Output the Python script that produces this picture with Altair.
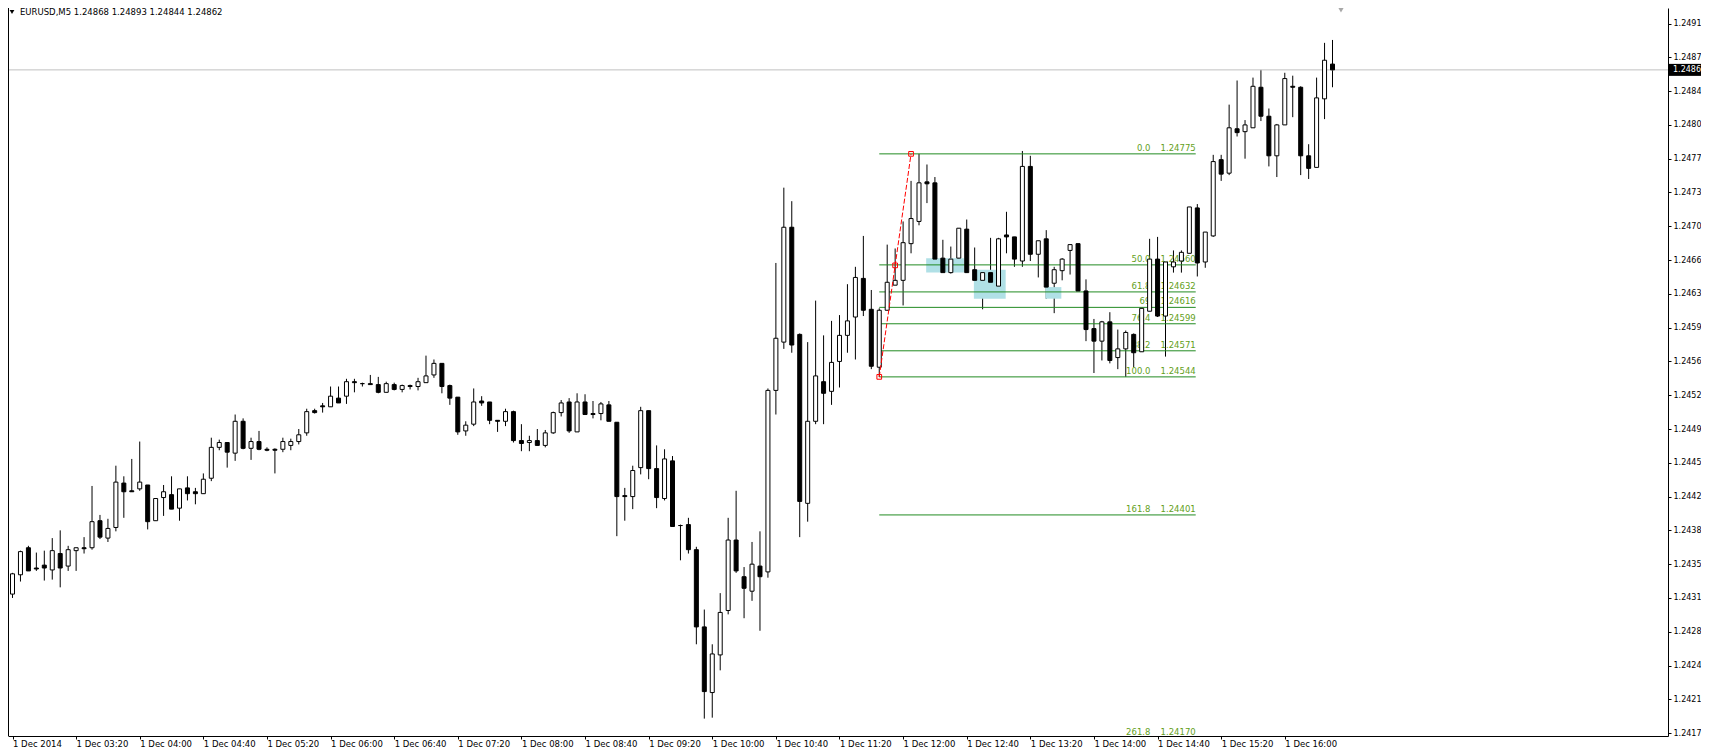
import json
import altair as alt
import pandas as pd

# ---------------- data (EURUSD M5, 1 Dec 2014, one bar every 5 minutes from 02:40) ----------------
opens = [1.24319, 1.24339, 1.24367, 1.24346, 1.24349, 1.24344, 1.24361, 1.24348, 1.24364, 1.24367,
         1.24367, 1.24395, 1.24377, 1.24388, 1.24434, 1.24426, 1.24428, 1.24432, 1.24395, 1.24419,
         1.24422, 1.24408, 1.24429, 1.24425, 1.24423, 1.24439, 1.24471, 1.24476, 1.24465, 1.24498,
         1.24470, 1.24477, 1.24469, 1.24469, 1.24469, 1.24473, 1.24477, 1.24486, 1.24509, 1.24514,
         1.24513, 1.24522, 1.24524, 1.24539, 1.24537, 1.24537, 1.24536, 1.24528, 1.24536, 1.24531,
         1.24535, 1.24534, 1.24538, 1.24546, 1.24558, 1.24535, 1.24523, 1.24488, 1.24495, 1.24519,
         1.24518, 1.24499, 1.24498, 1.24508, 1.24478, 1.24476, 1.24478, 1.24473, 1.24486, 1.24507,
         1.24518, 1.24487, 1.24518, 1.24506, 1.24506, 1.24515, 1.24497, 1.24421, 1.24420, 1.24450,
         1.24509, 1.24449, 1.24418, 1.24457, 1.24390, 1.24391, 1.24365, 1.24285, 1.24217, 1.24256,
         1.24302, 1.24375, 1.24337, 1.24322, 1.24348, 1.24342, 1.24530, 1.24580, 1.24699, 1.24588,
         1.24413, 1.24498, 1.24539, 1.24529, 1.24560, 1.24587, 1.24606, 1.24646, 1.24614, 1.24554,
         1.24613, 1.24639, 1.24644, 1.24682, 1.24705, 1.24746, 1.24745, 1.24667, 1.24652, 1.24667,
         1.24697, 1.24655, 1.24644, 1.24652, 1.24638, 1.24691, 1.24689, 1.24664, 1.24762, 1.24671,
         1.24687, 1.24641, 1.24654, 1.24675, 1.24682, 1.24633, 1.24594, 1.24581, 1.24601, 1.24564,
         1.24573, 1.24588, 1.24570, 1.24612, 1.24666, 1.24607, 1.24658, 1.24664, 1.24672, 1.24719,
         1.24663, 1.24690, 1.24769, 1.24755, 1.24801, 1.24798, 1.24802, 1.24844, 1.24814, 1.24773,
         1.24805, 1.24845, 1.24844, 1.24773, 1.24761, 1.24832, 1.24868]
highs = [1.24341, 1.24364, 1.24369, 1.24362, 1.24364, 1.24377, 1.24385, 1.24369, 1.24367, 1.24378,
         1.24431, 1.24401, 1.24397, 1.24452, 1.24441, 1.24459, 1.24477, 1.24432, 1.24418, 1.24432,
         1.24441, 1.24428, 1.24441, 1.24429, 1.24444, 1.24481, 1.24479, 1.24476, 1.24505, 1.24501,
         1.24481, 1.24488, 1.24471, 1.24470, 1.24481, 1.24480, 1.24490, 1.24511, 1.24511, 1.24517,
         1.24534, 1.24534, 1.24542, 1.24542, 1.24538, 1.24546, 1.24544, 1.24539, 1.24538, 1.24536,
         1.24536, 1.24543, 1.24566, 1.24562, 1.24558, 1.24536, 1.24523, 1.24498, 1.24532, 1.24524,
         1.24518, 1.24499, 1.24511, 1.24509, 1.24495, 1.24483, 1.24490, 1.24489, 1.24508, 1.24520,
         1.24522, 1.24527, 1.24526, 1.24519, 1.24518, 1.24519, 1.24497, 1.24429, 1.24452, 1.24513,
         1.24509, 1.24473, 1.24469, 1.24462, 1.24391, 1.24398, 1.24368, 1.24303, 1.24267, 1.24320,
         1.24398, 1.24426, 1.24347, 1.24373, 1.24384, 1.24532, 1.24662, 1.24740, 1.24726, 1.24589,
         1.24580, 1.24623, 1.24587, 1.24602, 1.24608, 1.24640, 1.24658, 1.24690, 1.24634, 1.24615,
         1.24681, 1.24677, 1.24705, 1.24747, 1.24775, 1.24764, 1.24751, 1.24686, 1.24679, 1.24698,
         1.24707, 1.24678, 1.24652, 1.24688, 1.24688, 1.24715, 1.24689, 1.24778, 1.24773, 1.24685,
         1.24696, 1.24658, 1.24667, 1.24681, 1.24682, 1.24645, 1.24604, 1.24602, 1.24611, 1.24593,
         1.24592, 1.24589, 1.24615, 1.24687, 1.24689, 1.24663, 1.24675, 1.24675, 1.24720, 1.24723,
         1.24694, 1.24774, 1.24774, 1.24826, 1.24851, 1.24810, 1.24854, 1.24862, 1.24822, 1.24806,
         1.24859, 1.24856, 1.24845, 1.24785, 1.24854, 1.24890, 1.24893]
lows = [1.24315, 1.24332, 1.24343, 1.24343, 1.24333, 1.24334, 1.24326, 1.24343, 1.24343, 1.24361,
        1.24365, 1.24376, 1.24373, 1.24384, 1.24398, 1.24425, 1.24426, 1.24386, 1.24395, 1.24400,
        1.24407, 1.24395, 1.24416, 1.24412, 1.24423, 1.24436, 1.24468, 1.24450, 1.24457, 1.24469,
        1.24458, 1.24468, 1.24467, 1.24444, 1.24466, 1.24468, 1.24474, 1.24483, 1.24506, 1.24507,
        1.24513, 1.24517, 1.24516, 1.24528, 1.24534, 1.24536, 1.24527, 1.24528, 1.24530, 1.24528,
        1.24531, 1.24530, 1.24538, 1.24543, 1.24527, 1.24515, 1.24484, 1.24483, 1.24493, 1.24514,
        1.24495, 1.24487, 1.24493, 1.24476, 1.24467, 1.24467, 1.24473, 1.24471, 1.24485, 1.24503,
        1.24486, 1.24487, 1.24505, 1.24501, 1.24499, 1.24498, 1.24379, 1.24395, 1.24407, 1.24443,
        1.24438, 1.24408, 1.24416, 1.24389, 1.24354, 1.24361, 1.24267, 1.24190, 1.24191, 1.24240,
        1.24298, 1.24341, 1.24294, 1.24312, 1.24281, 1.24336, 1.24505, 1.24573, 1.24569, 1.24378,
        1.24394, 1.24495, 1.24495, 1.24515, 1.24533, 1.24569, 1.24562, 1.24607, 1.24552, 1.24544,
        1.24613, 1.24639, 1.24618, 1.24672, 1.24701, 1.24724, 1.24664, 1.24652, 1.24651, 1.24654,
        1.24652, 1.24636, 1.24614, 1.24631, 1.24631, 1.24672, 1.24658, 1.24658, 1.24664, 1.24647,
        1.24625, 1.24610, 1.24644, 1.24650, 1.24633, 1.24581, 1.24548, 1.24561, 1.24558, 1.24552,
        1.24544, 1.24554, 1.24570, 1.24612, 1.24606, 1.24565, 1.24652, 1.24652, 1.24672, 1.24648,
        1.24657, 1.24689, 1.24747, 1.24753, 1.24793, 1.24770, 1.24802, 1.24809, 1.24762, 1.24751,
        1.24805, 1.24813, 1.24753, 1.24749, 1.24761, 1.24811, 1.24844]
closes = [1.24340, 1.24363, 1.24343, 1.24345, 1.24346, 1.24364, 1.24346, 1.24365, 1.24367, 1.24366,
          1.24394, 1.24378, 1.24387, 1.24435, 1.24425, 1.24425, 1.24435, 1.24394, 1.24418, 1.24425,
          1.24407, 1.24428, 1.24423, 1.24423, 1.24438, 1.24471, 1.24476, 1.24466, 1.24498, 1.24470,
          1.24477, 1.24469, 1.24468, 1.24468, 1.24477, 1.24477, 1.24484, 1.24508, 1.24507, 1.24513,
          1.24524, 1.24517, 1.24539, 1.24538, 1.24537, 1.24536, 1.24528, 1.24537, 1.24531, 1.24535,
          1.24534, 1.24539, 1.24545, 1.24558, 1.24534, 1.24522, 1.24487, 1.24494, 1.24518, 1.24517,
          1.24499, 1.24498, 1.24508, 1.24478, 1.24475, 1.24478, 1.24473, 1.24486, 1.24507, 1.24517,
          1.24488, 1.24518, 1.24505, 1.24505, 1.24516, 1.24498, 1.24420, 1.24420, 1.24447, 1.24509,
          1.24449, 1.24419, 1.24459, 1.24389, 1.24390, 1.24365, 1.24285, 1.24218, 1.24257, 1.24300,
          1.24375, 1.24343, 1.24325, 1.24350, 1.24337, 1.24530, 1.24584, 1.24699, 1.24577, 1.24415,
          1.24498, 1.24545, 1.24527, 1.24559, 1.24587, 1.24602, 1.24647, 1.24613, 1.24555, 1.24613,
          1.24642, 1.24644, 1.24683, 1.24708, 1.24745, 1.24744, 1.24666, 1.24652, 1.24666, 1.24698,
          1.24652, 1.24644, 1.24652, 1.24642, 1.24687, 1.24689, 1.24666, 1.24762, 1.24671, 1.24685,
          1.24637, 1.24655, 1.24666, 1.24681, 1.24633, 1.24593, 1.24581, 1.24601, 1.24561, 1.24573,
          1.24590, 1.24569, 1.24615, 1.24666, 1.24607, 1.24663, 1.24663, 1.24673, 1.24720, 1.24662,
          1.24694, 1.24767, 1.24754, 1.24802, 1.24797, 1.24805, 1.24845, 1.24814, 1.24773, 1.24805,
          1.24853, 1.24844, 1.24773, 1.24760, 1.24833, 1.24872, 1.24862]

symbol = "EURUSD,M5"

x_tick_bars = [0, 8, 16, 24, 32, 40, 48, 56, 64, 72, 80, 88, 96, 104, 112, 120, 128, 136, 144, 152, 160]
x_tick_labels = ["1 Dec 2014", "1 Dec 03:20", "1 Dec 04:00", "1 Dec 04:40", "1 Dec 05:20",
                 "1 Dec 06:00", "1 Dec 06:40", "1 Dec 07:20", "1 Dec 08:00", "1 Dec 08:40",
                 "1 Dec 09:20", "1 Dec 10:00", "1 Dec 10:40", "1 Dec 11:20", "1 Dec 12:00",
                 "1 Dec 12:40", "1 Dec 13:20", "1 Dec 14:00", "1 Dec 14:40", "1 Dec 15:20",
                 "1 Dec 16:00"]
price_ticks = [1.24175, 1.24210, 1.24245, 1.24280, 1.24315, 1.24350, 1.24385, 1.24420, 1.24455,
               1.24490, 1.24525, 1.24560, 1.24595, 1.24630, 1.24665, 1.24700, 1.24735, 1.24770,
               1.24805, 1.24840, 1.24875, 1.24910]

# Fibonacci retracement object
fib_levels = ["0.0", "50.0", "61.8", "69", "76.4", "88.2", "100.0", "161.8", "261.8"]
fib_prices = [1.24775, 1.24660, 1.24632, 1.24616, 1.24599, 1.24571, 1.24544, 1.24401, 1.24170]
fib_anchor_bars = [109, 113]
fib_anchor_prices = [1.24544, 1.24775]
fib_end_bar = 148.8
fib_label_bar = 143.1

# highlighted rectangles
rect_start = [114.9, 120.9, 129.9]
rect_end = [119.65, 124.9, 131.9]
rect_low = [1.24652, 1.24625, 1.24625]
rect_high = [1.24667, 1.24655, 1.24637]

# ---------------- layout ----------------
W, H = 1660, 728
PAD_R, PAD_B = 33, 12
FONT = "DejaVu Sans"
FS = 8.5
YFS = 8
FIB_LINE = "#228B22"
FIB_TEXT = "#63A01A"

xs = alt.Scale(domain=[0.0625, 0.0625 + W / 8.0], nice=False, zero=False)
ys = alt.Scale(domain=[1.24172, 1.249261], nice=False, zero=False)

X_AXIS = alt.Axis(values=x_tick_bars, labelExpr=json.dumps(x_tick_labels) + "[round(datum.value / 8)]",
                  orient="bottom", grid=False, tickSize=3, labelAlign="left", labelBaseline="top",
                  labelPadding=0, labelFlush=False, labelOverlap=False, labelBound=False,
                  title=None, domainColor="black", tickColor="black", labelFont=FONT,
                  labelFontSize=FS, labelColor="black")
Y_AXIS = alt.Axis(values=price_ticks, format=".5f", orient="right", grid=False, tickSize=3,
                  labelPadding=2, labelBaseline="middle", title=None, domainColor="black",
                  tickColor="black", labelOverlap=False, labelFlush=False, labelBound=False,
                  labelFont=FONT, labelFontSize=YFS, labelColor="black")


def X(field):
    return alt.X(field, scale=xs, axis=X_AXIS)


def Y(field):
    return alt.Y(field, scale=ys, axis=Y_AXIS)


n = len(opens)
df = pd.DataFrame({"bar": list(range(n)), "open": opens, "high": highs, "low": lows, "close": closes})
df["side"] = ["up" if c > o else "down" for o, c in zip(opens, closes)]

one = pd.DataFrame({"k": [0]})

rects = alt.Chart(pd.DataFrame({"s": rect_start, "e": rect_end, "lo": rect_low, "hi": rect_high})).mark_rect(
    fill="#B0E0E6", clip=True).encode(x=X("s:Q"), x2="e:Q", y=Y("lo:Q"), y2="hi:Q")

fib_df = pd.DataFrame({"level": fib_levels, "price": fib_prices,
                       "start": [fib_anchor_bars[0]] * len(fib_levels),
                       "end": [fib_end_bar] * len(fib_levels),
                       "lab": [fib_label_bar] * len(fib_levels)})

fib_lines = alt.Chart(fib_df).mark_rule(color=FIB_LINE, strokeWidth=1, clip=True).encode(
    x=X("start:Q"), x2="end:Q", y=Y("price:Q"))

fib_level_text = alt.Chart(fib_df).mark_text(align="right", baseline="alphabetic", dy=-3,
                                             font=FONT, fontSize=FS, color=FIB_TEXT).encode(
    x=X("lab:Q"), y=Y("price:Q"), text="level:N")

fib_price_text = alt.Chart(fib_df).mark_text(align="right", baseline="alphabetic", dy=-3,
                                             font=FONT, fontSize=FS, color=FIB_TEXT).encode(
    x=X("end:Q"), y=Y("price:Q"), text=alt.Text("price:Q", format=".5f"))

cur_df = pd.DataFrame({"price": [closes[-1]]})
cur_line = alt.Chart(cur_df).mark_rule(color="#C0C0C0", strokeWidth=1).encode(
    x=alt.value(0), x2=alt.value(W), y=Y("price:Q"))

wicks = alt.Chart(df).mark_rule(color="black", strokeWidth=1, clip=True).encode(
    x=X("bar:Q"), y=Y("low:Q"), y2="high:Q")

bodies = alt.Chart(df).mark_bar(width=4, stroke="black", strokeWidth=1, clip=True).encode(
    x=X("bar:Q"), y=Y("open:Q"), y2="close:Q",
    fill=alt.Fill("side:N", scale=alt.Scale(domain=["up", "down"], range=["white", "black"]), legend=None))

anch_df = pd.DataFrame({"bar": fib_anchor_bars, "price": fib_anchor_prices})
mid_df = pd.DataFrame({"bar": [sum(fib_anchor_bars) / 2], "price": [sum(fib_anchor_prices) / 2]})
fib_trend = alt.Chart(anch_df).mark_line(color="red", strokeWidth=1, strokeDash=[5, 2]).encode(
    x=X("bar:Q"), y=Y("price:Q"))
fib_marks = alt.Chart(pd.concat([anch_df, mid_df])).mark_point(
    shape="square", filled=False, color="red", size=22, strokeWidth=1, opacity=1).encode(
    x=X("bar:Q"), y=Y("price:Q"))

price_box = alt.Chart(cur_df).mark_rect(fill="black", yOffset=-6, y2Offset=6, clip=False).encode(
    x=alt.value(W + 1), x2=alt.value(W + PAD_R), y=Y("price:Q"), y2="price:Q")
price_box_text = alt.Chart(cur_df).mark_text(align="left", baseline="middle", font=FONT, fontSize=YFS,
                                             color="white").encode(
    x=alt.value(W + 5), y=Y("price:Q"), text=alt.Text("price:Q", format=".5f"))

header = "%s  %.5f %.5f %.5f %.5f" % (symbol, opens[-1], highs[-1], lows[-1], closes[-1])
header_text = alt.Chart(one).mark_text(align="left", baseline="top", font=FONT, fontSize=FS,
                                       color="black", text=header).encode(x=alt.value(12), y=alt.value(0))
header_tri = alt.Chart(one).mark_point(shape="triangle-down", filled=True, color="black", size=22,
                                       opacity=1).encode(x=alt.value(4), y=alt.value(4))
shift_tri = alt.Chart(one).mark_point(shape="triangle-down", filled=True, color="#A8A8A8", size=45,
                                      opacity=1).encode(x=alt.value(1333), y=alt.value(1.5))
left_border = alt.Chart(one).mark_rule(color="black", strokeWidth=1).encode(
    x=alt.value(0.5), y=alt.value(0), y2=alt.value(H))

chart = alt.layer(
    wicks, rects, fib_lines, fib_level_text, fib_price_text, cur_line, bodies,
    fib_trend, fib_marks, price_box, price_box_text, header_tri, header_text, shift_tri, left_border
).properties(
    width=W, height=H,
    padding={"left": 0, "top": 0, "right": PAD_R, "bottom": PAD_B},
    autosize=alt.AutoSizeParams(type="none"),
    background="white",
).configure_view(stroke=None)

chart.save("out.html", embed_options={"renderer": "svg", "actions": False})
